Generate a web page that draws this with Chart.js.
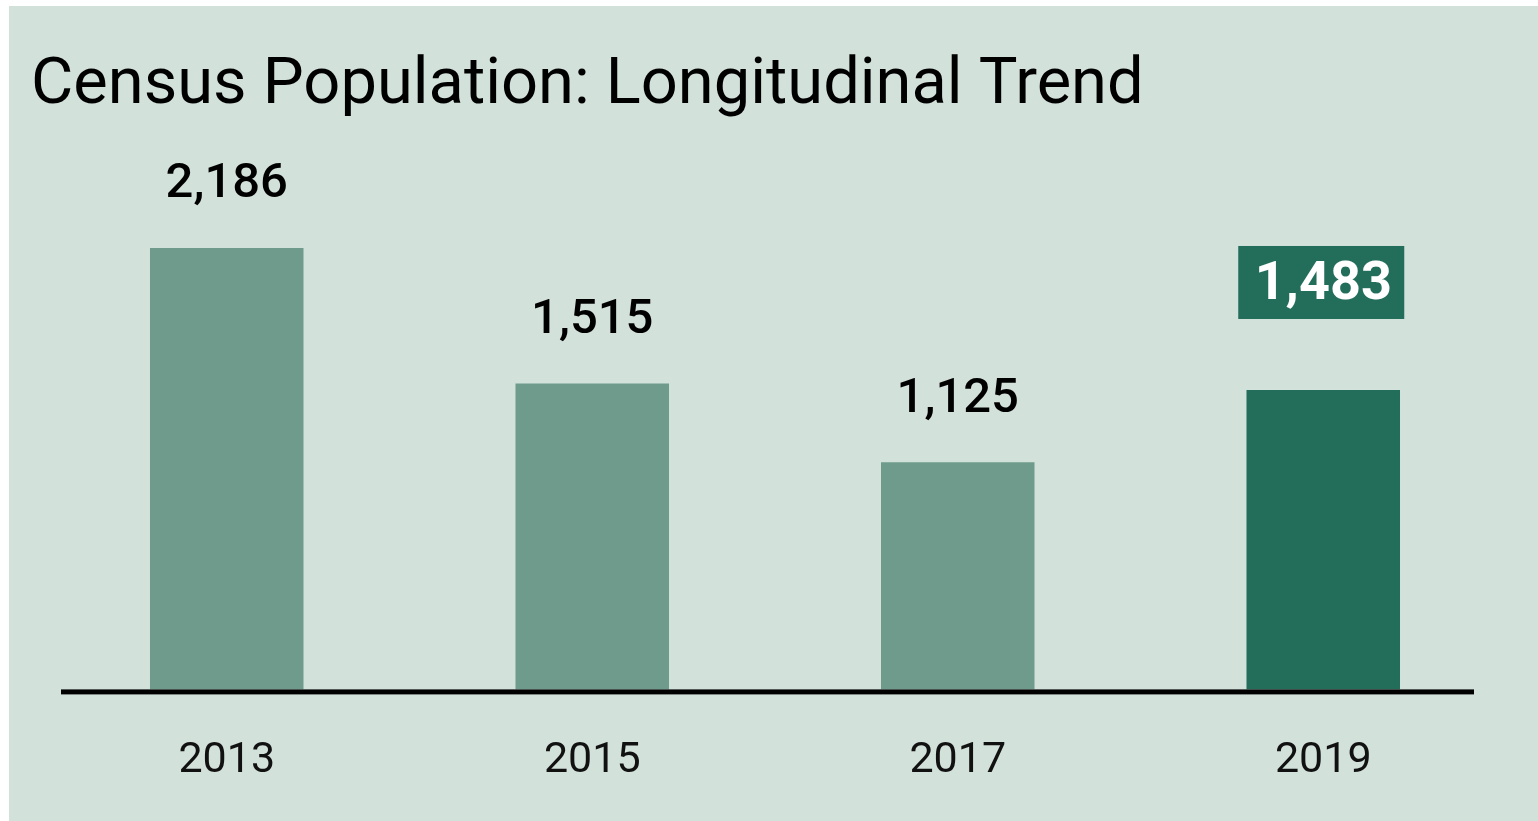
<!DOCTYPE html>
<html>
<head>
<meta charset="utf-8">
<script src="https://cdn.jsdelivr.net/npm/chart.js@4"></script>
<style>
  html, body { margin: 0; padding: 0; background: #ffffff; }
  #panel {
    position: absolute; left: 9px; top: 6px;
    width: 1529px; height: 815px;
    background: #d2e1da;
  }
</style>
</head>
<body>
<div id="panel"><canvas id="censusChart" width="1529" height="815"></canvas></div>
<script>
const years = ['2013', '2015', '2017', '2019'];
const population = [2186, 1515, 1125, 1483];
const highlightYear = '2019';
const chartTitle = 'Census Population: Longitudinal Trend';

const barColors = years.map(y => y === highlightYear ? '#236e5a' : '#6e9b8b');

// title, value labels above each bar (boxed for the highlighted year), baseline
const valueLabels = {
    id: 'valueLabels',
    afterDatasetsDraw(chart) {
        const ctx = chart.ctx;
        const meta = chart.getDatasetMeta(0);
        ctx.save();

        ctx.fillStyle = '#000000';
        ctx.textAlign = 'left';
        ctx.textBaseline = 'alphabetic';
        ctx.font = '65px Roboto';
        ctx.fillText(chartTitle, 22, 97);

        ctx.textAlign = 'center';
        ctx.textBaseline = 'middle';
        meta.data.forEach((bar, i) => {
            const txt = population[i].toLocaleString('en-US');
            if (years[i] === highlightYear) {
                const cy = bar.y - 107;
                ctx.fillStyle = '#236e5a';
                ctx.fillRect(bar.x - 85, cy - 37, 166, 73);
                ctx.fillStyle = '#ffffff';
                ctx.font = 'bold 54px Roboto';
                ctx.fillText(txt, bar.x, cy + 3);
            } else {
                ctx.fillStyle = '#000000';
                ctx.font = '500 49px Roboto';
                ctx.fillText(txt, bar.x, bar.y - 63);
            }
        });

        const area = chart.chartArea;
        ctx.fillStyle = '#000000';
        ctx.fillRect(area.left + 17, area.bottom, area.right - area.left - 49, 5);
        ctx.restore();
    }
};

new Chart(document.getElementById('censusChart'), {
    type: 'bar',
    data: {
        labels: years,
        datasets: [{
            data: population,
            backgroundColor: barColors,
            barPercentage: 0.42,
            categoryPercentage: 1.0
        }]
    },
    options: {
        responsive: false,
        animation: false,
        layout: { padding: { left: 35, right: 32, top: 108, bottom: -12 } },
        plugins: {
            legend: { display: false },
            tooltip: { enabled: false },
            title: { display: false }
        },
        scales: {
            x: {
                grid: { display: false, drawTicks: false },
                border: { display: false },
                ticks: {
                    color: '#111111',
                    padding: 46,
                    font: { family: 'Roboto', size: 43 }
                }
            },
            y: {
                display: false,
                min: 0,
                max: 2850
            }
        }
    },
    plugins: [valueLabels]
});
</script>
</body>
</html>
